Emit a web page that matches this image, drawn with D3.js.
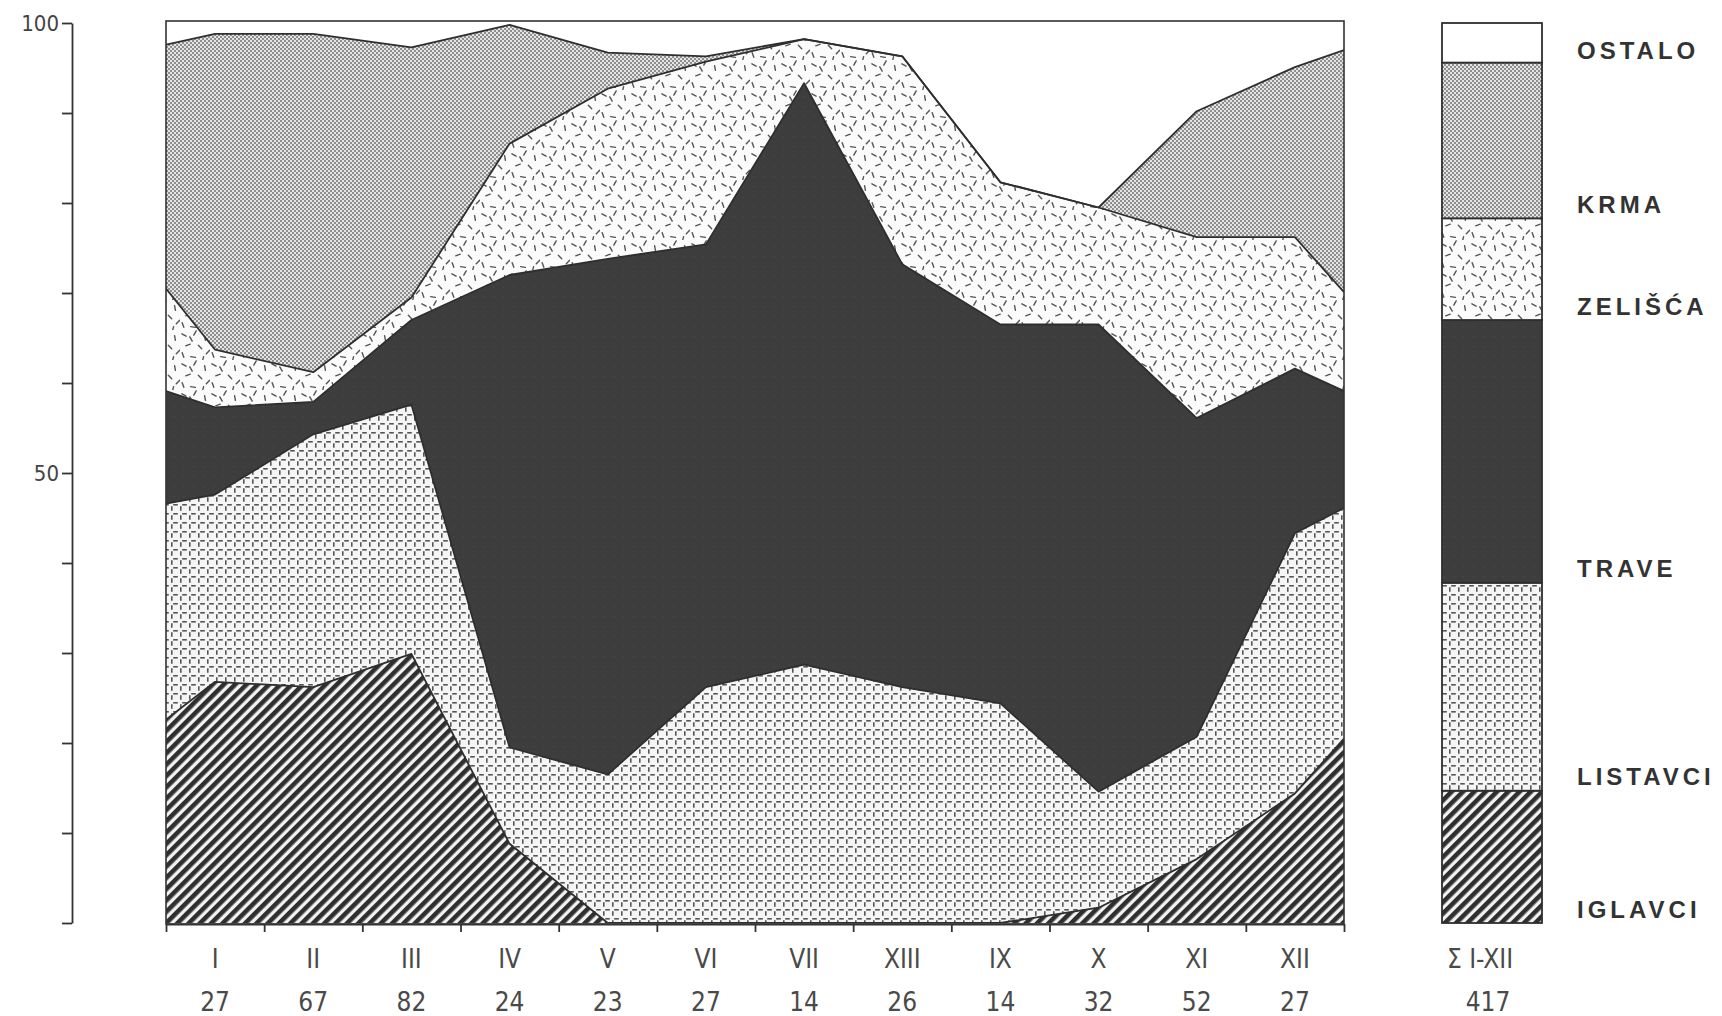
<!DOCTYPE html>
<html>
<head>
<meta charset="utf-8">
<script src="https://cdn.jsdelivr.net/npm/d3@7"></script>
<style>
  body { margin: 0; background: #fff; }
  svg { display: block; }
</style>
</head>
<body>
<svg id="chart" width="1722" height="1016"></svg>
<script>
// months (XIII is printed that way in the original) and sample counts
const months = ["I", "II", "III", "IV", "V", "VI", "VII", "XIII", "IX", "X", "XI", "XII"];
const counts = [27, 67, 82, 24, 23, 27, 14, 26, 14, 32, 52, 27];

const layers = ["IGLAVCI", "LISTAVCI", "TRAVE", "ZELIŠĆA", "KRMA", "OSTALO"];

// share of each group per month, %
const iglavci  = [26.8, 26.2, 29.9,  8.8,  0.0,  0.0,  0.0,  0.0,  0.0,  1.7,  7.1, 14.4];
const listavci = [20.8, 28.1, 27.7, 10.7, 16.5, 26.2, 28.7, 26.2, 24.4, 12.9, 13.6, 28.9];
const trave    = [ 9.7,  3.6,  9.4, 52.5, 57.3, 49.2, 64.6, 47.0, 42.1, 51.9, 35.4, 18.3];
const zelisca  = [ 6.4,  3.3,  2.5, 14.6, 18.9, 20.3,  4.9, 23.1, 15.8, 13.0, 20.1, 14.6];
const krma     = [35.1, 37.6, 27.8, 13.2,  4.0,  0.6,  0.0,  0.0,  0.0,  0.0, 14.0, 18.9];
const ostalo   = [ 1.2,  1.2,  2.7,  0.2,  3.3,  3.7,  1.8,  3.7, 17.7, 20.5,  9.8,  4.9];

// values where the bands meet the left and right frame (same layer order)
const edgeLeft  = [22.6, 24.0, 12.5, 11.4, 27.1, 2.4];
const edgeRight = [20.5, 25.6, 13.0, 11.0, 26.9, 3.0];

// whole year, Σ I-XII
const totals = [14.7, 23.1, 29.2, 11.3, 17.3, 4.4];
const sumLabel = "Σ I-XII";
const sumValue = "417";

const series = [iglavci, listavci, trave, zelisca, krma, ostalo];

let rows = [];
let first = { pos: -0.5 }, last = { pos: 11.5 };
layers.forEach((k, j) => { first[k] = edgeLeft[j]; last[k] = edgeRight[j]; });
rows.push(first);
months.forEach((m, i) => {
    let r = { pos: i };
    layers.forEach((k, j) => r[k] = series[j][i]);
    rows.push(r);
});
rows.push(last);

const svg = d3.select("#chart");
const defs = svg.append("defs");

// --- fill textures ---
let p = defs.append("pattern").attr("id", "p0").attr("patternUnits", "userSpaceOnUse")
    .attr("width", 8).attr("height", 8).attr("patternTransform", "rotate(45)");
p.append("rect").attr("width", 8).attr("height", 8).attr("fill", "#f2f2f2");
p.append("rect").attr("width", 4.6).attr("height", 8).attr("fill", "#2f2f2f");

p = defs.append("pattern").attr("id", "p1").attr("patternUnits", "userSpaceOnUse")
    .attr("width", 9).attr("height", 9);
p.append("rect").attr("width", 9).attr("height", 9).attr("fill", "#f5f5f5");
p.append("line").attr("x1", 2.2).attr("x2", 6.8).attr("y1", 0.8).attr("y2", 0.8)
    .attr("stroke", "#555").attr("stroke-width", 1.6);
p.append("line").attr("x1", 0.8).attr("x2", 0.8).attr("y1", 2.2).attr("y2", 6.8)
    .attr("stroke", "#555").attr("stroke-width", 1.6);

p = defs.append("pattern").attr("id", "p2").attr("patternUnits", "userSpaceOnUse")
    .attr("width", 10).attr("height", 10);
p.append("rect").attr("width", 10).attr("height", 10).attr("fill", "#3d3d3d");
p.append("rect").attr("x", 3).attr("y", 6).attr("width", 1.5).attr("height", 1.5).attr("fill", "#474747");

const dashes = [[4,5,30],[15,3,-60],[25,8,80],[8,15,-20],[20,17,45],[28,22,-45],[3,25,70],[13,27,10],[23,29,-75],[11,9,60]];
p = defs.append("pattern").attr("id", "p3").attr("patternUnits", "userSpaceOnUse")
    .attr("width", 30).attr("height", 30);
p.append("rect").attr("width", 30).attr("height", 30).attr("fill", "#fbfbfb");
dashes.forEach(d => {
    p.append("line").attr("x1", -2.4).attr("x2", 2.4).attr("y1", 0).attr("y2", 0)
        .attr("transform", `translate(${d[0]},${d[1]}) rotate(${d[2]})`)
        .attr("stroke", "#555").attr("stroke-width", 1.4).attr("stroke-linecap", "round");
});

p = defs.append("pattern").attr("id", "p4").attr("patternUnits", "userSpaceOnUse")
    .attr("width", 4).attr("height", 4);
p.append("rect").attr("width", 4).attr("height", 4).attr("fill", "#e4e4e4");
p.append("rect").attr("width", 2).attr("height", 2).attr("fill", "#8f8f8f");
p.append("rect").attr("x", 2).attr("y", 2).attr("width", 2).attr("height", 2).attr("fill", "#8f8f8f");

const fills = ["url(#p0)", "url(#p1)", "url(#p2)", "url(#p3)", "url(#p4)", "#ffffff"];

// --- scales ---
const plotL = 166, plotR = 1344, plotT = 23, plotB = 923;
const x = d3.scaleLinear().domain([-0.5, 11.5]).range([plotL, plotR]);
const y = d3.scaleLinear().domain([0, 100]).range([plotB, plotT]);

const stacked = d3.stack().keys(layers)(rows);

const area = d3.area()
    .x(d => x(d.data.pos))
    .y0(d => y(d[0]))
    .y1(d => y(d[1]));

const topLine = d3.line()
    .x(d => x(d.data.pos))
    .y(d => y(d[1]));

defs.append("clipPath").attr("id", "plotclip").append("rect")
    .attr("x", plotL).attr("y", plotT).attr("width", plotR - plotL).attr("height", plotB - plotT);

const plot = svg.append("g").attr("clip-path", "url(#plotclip)");

plot.selectAll("path.band")
    .data(stacked)
    .join("path")
    .attr("class", "band")
    .attr("d", area)
    .attr("fill", (d, i) => fills[i]);

plot.selectAll("path.edge")
    .data(stacked.slice(0, 5))
    .join("path")
    .attr("class", "edge")
    .attr("d", topLine)
    .attr("fill", "none")
    .attr("stroke", "#2e2e2e")
    .attr("stroke-width", 1.8)
    .attr("stroke-linejoin", "round");

svg.append("rect")
    .attr("x", plotL).attr("y", plotT - 2).attr("width", plotR - plotL).attr("height", plotB - plotT + 3)
    .attr("fill", "none").attr("stroke", "#333").attr("stroke-width", 1.6);

// --- axes ---
const xAxis = svg.append("g")
    .attr("transform", `translate(0,${plotB + 1})`)
    .call(d3.axisBottom(x).tickValues(d3.range(-0.5, 12, 1)).tickSize(8).tickSizeOuter(0).tickFormat(""));
xAxis.selectAll("path, line").attr("stroke", "#333").attr("stroke-width", 1.8);

const yAxis = svg.append("g")
    .attr("transform", "translate(72,0)")
    .call(d3.axisLeft(y).tickValues(d3.range(0, 101, 10)).tickSize(10).tickSizeOuter(0)
        .tickPadding(3).tickFormat(d => (d === 100 || d === 50) ? d : ""));
yAxis.selectAll("path, line").attr("stroke", "#333").attr("stroke-width", 1.8);
yAxis.selectAll("text")
    .attr("font-family", "'Liberation Sans Narrow', 'DejaVu Sans Condensed', sans-serif")
    .attr("font-size", 22).attr("fill", "#444");

const labelFont = "'Liberation Sans Narrow', 'DejaVu Sans Condensed', sans-serif";

svg.append("g").selectAll("text")
    .data(months)
    .join("text")
    .attr("x", (d, i) => x(i))
    .attr("y", 959)
    .attr("dy", "0.36em")
    .attr("text-anchor", "middle")
    .attr("font-family", labelFont).attr("font-size", 26).attr("fill", "#4a4a4a")
    .text(d => d);

svg.append("g").selectAll("text")
    .data(counts)
    .join("text")
    .attr("x", (d, i) => x(i))
    .attr("y", 1002)
    .attr("dy", "0.36em")
    .attr("text-anchor", "middle")
    .attr("font-family", labelFont).attr("font-size", 26).attr("fill", "#4a4a4a")
    .text(d => d);

// --- legend: the yearly column ---
const barX = 1442, barW = 100;
let acc = 0;
const segs = totals.map((v, i) => { const s = { key: layers[i], y0: acc, y1: acc + v, i: i }; acc += v; return s; });

const legend = svg.append("g");
legend.selectAll("rect")
    .data(segs)
    .join("rect")
    .attr("x", barX).attr("width", barW)
    .attr("y", d => y(d.y1))
    .attr("height", d => y(d.y0) - y(d.y1))
    .attr("fill", d => fills[d.i])
    .attr("stroke", "#2e2e2e").attr("stroke-width", 1.8);

legend.selectAll("text")
    .data(segs)
    .join("text")
    .attr("x", 1577)
    .attr("y", d => d.key === "OSTALO" ? (y(d.y0) + y(d.y1)) / 2 + 8 : y(d.y0) - 14)
    .attr("dy", "0.36em")
    .attr("font-family", "'Liberation Sans', Arial, sans-serif")
    .attr("font-weight", "bold").attr("font-size", 24).attr("letter-spacing", 4)
    .attr("fill", "#333")
    .text(d => d.key);

svg.append("text").attr("x", barX + barW / 2 - 12).attr("y", 959).attr("dy", "0.36em")
    .attr("text-anchor", "middle").attr("font-family", labelFont).attr("font-size", 26)
    .attr("fill", "#4a4a4a").text(sumLabel);
svg.append("text").attr("x", barX + barW / 2 - 4).attr("y", 1002).attr("dy", "0.36em")
    .attr("text-anchor", "middle").attr("font-family", labelFont).attr("font-size", 26)
    .attr("fill", "#4a4a4a").text(sumValue);
</script>
</body>
</html>
